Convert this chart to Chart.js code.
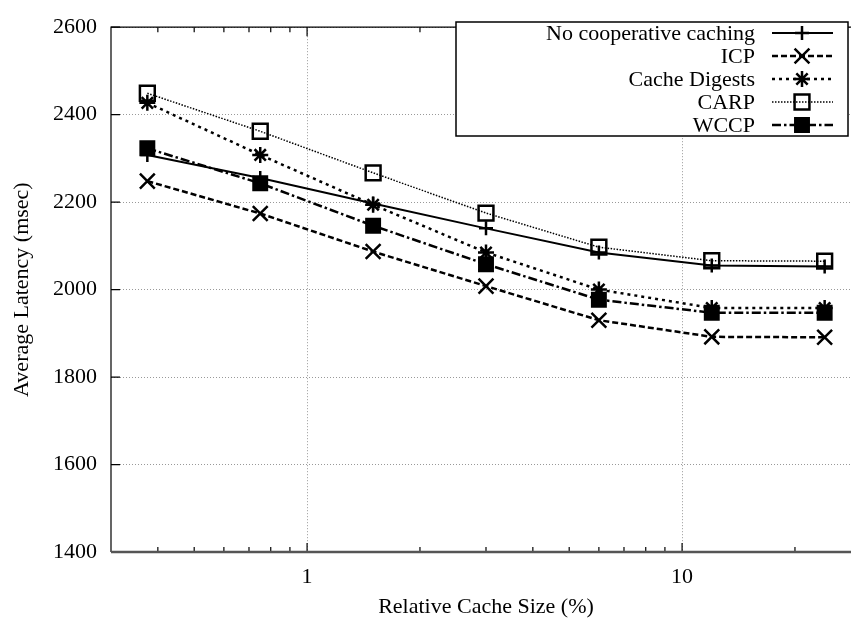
<!DOCTYPE html>
<html>
<head>
<meta charset="utf-8">
<script src="https://cdn.jsdelivr.net/npm/chart.js@4/dist/chart.umd.min.js"></script>
<style>
  html, body {margin: 0; padding: 0; overflow: hidden; background: #fff;}
  #wrap {width: 851px; height: 624px; overflow: hidden;}
</style>
</head>
<body>
<!-- the plot frame runs past the right edge of the picture, so the canvas is wider -->
<div id="wrap"><canvas id="visual" width="874" height="624"></canvas></div>
<script>
// relative cache size (%) on a log axis
const cacheSizes = [0.375, 0.75, 1.5, 3, 6, 12, 24];
const noCooperative = [2308, 2255, 2197, 2140, 2085, 2055, 2053];
const icp = [2248, 2174, 2087, 2008, 1930, 1892, 1891];
const cacheDigests = [2427, 2308, 2194, 2085, 2000, 1958, 1958];
const carp = [2449, 2362, 2267, 2175, 2097, 2066, 2065];
const wccp = [2323, 2243, 2146, 2058, 1977, 1947, 1947];
const yTicks = [1400, 1600, 1800, 2000, 2200, 2400, 2600];
const xTicks = [1, 10];
const xMinorTicks = [0.4, 0.5, 0.6, 0.7, 0.8, 0.9, 2, 3, 4, 5, 6, 7, 8, 9, 20, 30];

const serif = 'Liberation Serif, Times New Roman, serif';

const toPoints = (ys) => ys.map((y, i) => ({x: cacheSizes[i], y}));

const series = [
  {label: 'No cooperative caching', data: noCooperative, style: 'cross',
    radius: 7, dash: [], width: 2, fill: false},
  {label: 'ICP', data: icp, style: 'crossRot',
    radius: 10.5, dash: [6, 3], width: 2.5, fill: false},
  {label: 'Cache Digests', data: cacheDigests, style: 'star',
    radius: 8, dash: [3, 4], width: 2.5, fill: false},
  {label: 'CARP', data: carp, style: 'rect',
    radius: 10.5, dash: [1.5, 1.5], width: 1.5, fill: false},
  {label: 'WCCP', data: wccp, style: 'rect',
    radius: 9.5, dash: [9, 3, 2.5, 3], width: 2.5, fill: true},
];

// frame, inward ticks and the key, drawn over the plot like gnuplot does
const framePlugin = {
  id: 'frame',
  afterDatasetsDraw(chart) {
    const {ctx, chartArea: a, scales: {x, y}} = chart;
    ctx.save();
    ctx.setLineDash([]);
    ctx.strokeStyle = '#000';

    ctx.lineWidth = 1.2;
    ctx.beginPath();
    ctx.moveTo(a.left, a.bottom);
    ctx.lineTo(a.left, a.top);
    ctx.lineTo(a.right, a.top);
    ctx.lineTo(a.right, a.bottom);
    ctx.stroke();

    ctx.beginPath();
    yTicks.forEach((v) => {
      const py = y.getPixelForValue(v);
      ctx.moveTo(a.left, py);
      ctx.lineTo(a.left + 9, py);
      ctx.moveTo(a.right, py);
      ctx.lineTo(a.right - 9, py);
    });
    xTicks.forEach((v) => {
      const px = x.getPixelForValue(v);
      ctx.moveTo(px, a.bottom);
      ctx.lineTo(px, a.bottom - 9);
      ctx.moveTo(px, a.top);
      ctx.lineTo(px, a.top + 9);
    });
    xMinorTicks.forEach((v) => {
      const px = x.getPixelForValue(v);
      ctx.moveTo(px, a.bottom);
      ctx.lineTo(px, a.bottom - 5);
      ctx.moveTo(px, a.top);
      ctx.lineTo(px, a.top + 5);
    });
    ctx.stroke();

    ctx.strokeStyle = '#555';
    ctx.lineWidth = 2.5;
    ctx.beginPath();
    ctx.moveTo(a.left, a.bottom);
    ctx.lineTo(a.right, a.bottom);
    ctx.stroke();

    // key
    ctx.strokeStyle = '#000';
    ctx.lineWidth = 1.5;
    ctx.fillStyle = '#fff';
    ctx.fillRect(456, 22, 392, 114);
    ctx.strokeRect(456, 22, 392, 114);
    ctx.font = '22px ' + serif;
    ctx.textAlign = 'right';
    ctx.textBaseline = 'middle';
    series.forEach((s, i) => {
      const rowY = 33 + i * 23;
      ctx.fillStyle = '#000';
      ctx.fillText(s.label, 755, rowY + 1);
      ctx.lineWidth = s.width;
      ctx.setLineDash(s.dash);
      ctx.beginPath();
      ctx.moveTo(772, rowY);
      ctx.lineTo(833, rowY);
      ctx.stroke();
      ctx.setLineDash([]);
      ctx.lineWidth = 2.5;
      ctx.fillStyle = s.fill ? '#000' : 'rgba(0,0,0,0)';
      Chart.helpers.drawPoint(ctx, {
        pointStyle: s.style, rotation: 0, radius: s.radius, borderWidth: 2.5,
      }, 802, rowY);
    });
    ctx.restore();
  },
};

const chart = new Chart('visual', {
  type: 'line',
  data: {
    datasets: series.map((s) => ({
      label: s.label,
      data: toPoints(s.data),
      borderColor: '#000',
      borderWidth: s.width,
      borderDash: s.dash,
      pointStyle: s.style,
      pointRadius: s.radius,
      pointBorderWidth: 2.5,
      pointBorderColor: '#000',
      pointBackgroundColor: s.fill ? '#000' : 'rgba(0,0,0,0)',
      fill: false,
      tension: 0,
    })),
  },
  options: {
    responsive: false,
    animation: false,
    devicePixelRatio: 1,
    layout: {padding: {top: 14, right: 0, bottom: 0, left: 0}},
    plugins: {legend: {display: false}, tooltip: {enabled: false}},
    scales: {
      x: {
        type: 'logarithmic',
        min: 0.3,
        max: 30,
        afterBuildTicks: (scale) => {
          scale.ticks = xTicks.map((value) => ({value}));
        },
        afterFit: (scale) => {
          scale.height = 72;
        },
        ticks: {
          color: '#000',
          font: {family: serif, size: 22},
          padding: 12,
          maxRotation: 0,
          autoSkip: false,
          callback: (v) => String(v),
        },
        grid: {color: '#999', lineWidth: 1, drawTicks: false},
        border: {display: false, dash: [1, 2]},
        title: {
          display: true,
          text: 'Relative Cache Size (%)',
          color: '#000',
          font: {family: serif, size: 22},
          padding: {top: 0, bottom: 4},
        },
      },
      y: {
        min: 1400,
        max: 2600,
        afterBuildTicks: (scale) => {
          scale.ticks = yTicks.map((value) => ({value}));
        },
        afterFit: (scale) => {
          scale.width = 111;
        },
        ticks: {
          color: '#000',
          font: {family: serif, size: 22},
          padding: 14,
          callback: (v) => String(v),
        },
        grid: {color: '#999', lineWidth: 1, drawTicks: false},
        border: {display: false, dash: [1, 2]},
        title: {
          display: true,
          text: 'Average Latency (msec)',
          color: '#000',
          font: {family: serif, size: 22},
          padding: {top: 9, bottom: 0},
        },
      },
    },
  },
  plugins: [framePlugin],
});
</script>
</body>
</html>
